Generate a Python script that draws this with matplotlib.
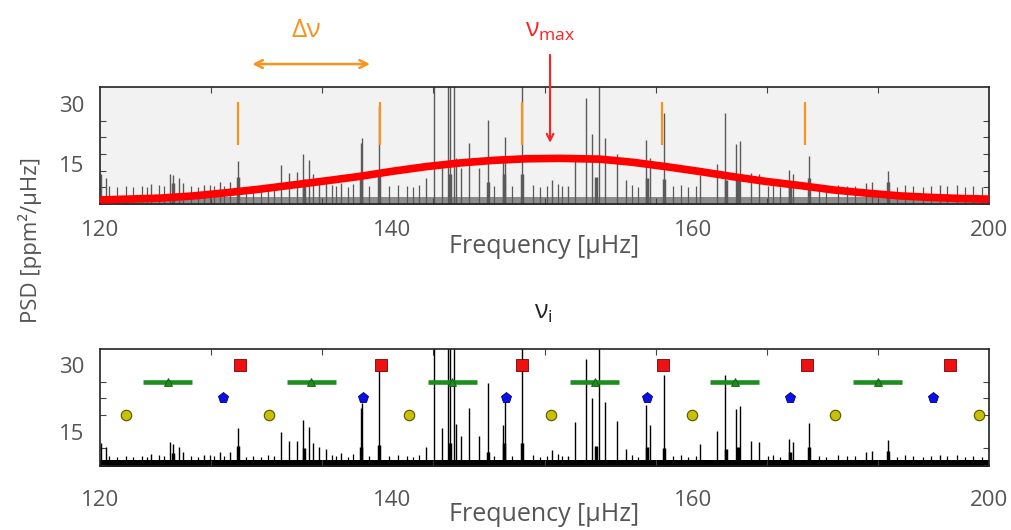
import matplotlib
matplotlib.use('Agg')
import matplotlib.pyplot as plt
from matplotlib.ticker import FixedLocator, MultipleLocator

plt.rcParams['font.family'] = ['Open Sans', 'DejaVu Sans']
plt.rcParams['mathtext.fontset'] = 'custom'
plt.rcParams['mathtext.rm'] = 'Open Sans'
plt.rcParams['mathtext.it'] = 'Open Sans'

# main oscillation peaks (frequency in uHz, PSD in ppm^2/uHz)
peak_freq = [120.1, 120.5, 124.6, 126.3, 126.6, 127.1, 127.5, 129.4, 130.8, 131.7,
             132.4, 136.3, 137.0, 137.7, 138.3, 138.8, 139.2, 139.7, 140.3, 141.7,
             143.45, 143.6, 145.1, 149.3, 150.1, 150.8, 151.3, 151.5, 151.9, 152.0,
             152.5, 153.2, 154.1, 154.9, 156.3, 156.45, 158.0, 160.7, 162.1, 162.7,
             163.7, 164.3, 164.9, 165.4, 166.5, 167.3, 169.1, 169.5, 170.75, 174.0,
             175.5, 176.25, 177.2, 177.6, 178.6, 179.3, 182.0, 182.4, 183.8, 188.9,
             189.5, 190.9, 195.6]
peak_psd = [12.5, 11.5, 9.9, 12.6, 12.3, 11.6, 10.3, 9.7, 10.5, 10.5,
            15.7, 14.8, 12.8, 12.9, 17.6, 16.1, 12.4, 11.5, 11.1, 10.2,
            20.2, 21.4, 29.6, 11.6, 40, 15.7, 40, 40, 40, 16.6,
            13.9, 20.2, 13.9, 25.9, 16.5, 21.7, 40, 10.9, 9.5, 17.1,
            31.4, 22.5, 40, 21.6, 17.4, 11.0, 21.0, 16.5, 27.8, 12.2,
            15.1, 27.8, 20.0, 20.8, 12.8, 12.6, 13.4, 12.6, 16.9, 10.3,
            10.6, 13.2, 9.8]

# broadened bases of the strongest modes
skirt_freq = [126.6, 132.4, 138.4, 143.5, 145.1, 151.5, 154.9, 156.4, 158.0,
              164.6, 169.2, 170.75, 176.3, 177.4, 182.1, 183.8, 190.9]
skirt_psd = [10.2, 11.8, 11.2, 11.5, 12.0, 12.5, 10.5, 12.5, 12.5,
             11.8, 11.5, 11.2, 11.0, 11.5, 10.5, 11.5, 10.6]

# small noise spikes on top of the background
grass_freq = [120.8, 121.5, 122.3, 123.0, 123.8, 124.2, 125.3, 125.8, 128.2, 128.8,
              129.9, 130.3, 131.2, 133.1, 133.8, 134.5, 135.1, 135.7, 140.9, 141.2,
              142.3, 142.8, 144.2, 146.0, 146.8, 147.6, 148.2, 148.7, 155.5, 157.1,
              159.0, 159.6, 160.2, 161.2, 161.6, 167.9, 168.4, 171.6, 172.3, 172.9,
              173.6, 180.1, 180.6, 181.2, 184.7, 185.3, 186.4, 187.2, 187.9, 191.7,
              192.4, 193.2, 194.1, 194.8, 196.2, 197.1, 197.8, 198.6, 199.4]
grass_psd = [9.4, 9.2, 9.6, 9.3, 9.5, 9.2, 9.7, 9.4, 9.5, 9.3,
             9.8, 9.4, 9.6, 9.2, 9.5, 9.3, 9.7, 9.4, 9.8, 9.5,
             9.3, 10.0, 9.6, 9.4, 9.7, 9.5, 9.2, 9.8, 9.6, 9.4,
             9.7, 9.3, 9.5, 10.0, 9.4, 9.7, 9.3, 9.5, 9.8, 9.2,
             9.6, 9.4, 9.7, 9.3, 9.5, 9.2, 9.8, 9.4, 9.6, 9.3,
             9.7, 9.5, 9.2, 9.6, 9.4, 9.8, 9.3, 9.5, 9.2]
noise_top_upper = 6.7
noise_top_lower = 8.7

# Gaussian-like envelope (red curve)
env_freq = [120, 122.5, 125.4, 128.4, 131.4, 134.4, 137.4, 140.4, 143.4, 146.4, 149.4,
            152.4, 155.4, 158.4, 161.4, 165, 168, 171, 174, 177, 180, 183, 186,
            189, 192, 195, 197.5, 200]
env_psd = [6.0, 6.2, 6.45, 7.0, 7.8, 8.7, 9.75, 10.8, 11.9, 13.2, 14.35,
           15.25, 15.9, 16.3, 16.4, 16.2, 15.4, 14.3, 13.1, 11.8, 10.6, 9.6, 8.5,
           7.7, 7.0, 6.6, 6.35, 6.2]

dnu_marks = [132.4, 145.2, 158.0, 170.6, 183.4]

# identified mode frequencies
l0_freq = [132.6, 145.3, 158.0, 170.7, 183.6, 196.5]
l2_freq = [131.1, 143.7, 156.5, 169.2, 182.1, 195.0]
l1_freq = [126.1, 139.0, 151.7, 164.5, 177.1, 190.0]
l3_freq = [122.3, 135.2, 147.8, 160.6, 173.3, 186.1, 199.1]
l1_halfwidth = 2.2

xtick_pos = [120, 146.3, 173.4, 200]
xtick_labels = ['120', '140', '160', '200']

text_gray = '#555555'
orange = '#f7941d'


def draw_spectrum(ax, color, band_color, base, noise_top):
    ax.fill_between([120, 200], 0, noise_top, color=band_color, lw=0)
    ax.vlines(grass_freq, base, grass_psd, color=color, lw=0.9)
    ax.vlines(skirt_freq, base, skirt_psd, color=color, lw=2.5)
    ax.vlines(peak_freq, base, peak_psd, color=color, lw=1.0)


def style_axes(ax, ylim, yminor, xlabel_y, xpad):
    ax.set_xlim(120, 200)
    ax.set_ylim(*ylim)
    ax.set_xticks(xtick_pos, xtick_labels)
    ax.set_yticks([15, 30], ['15', '30'])
    ax.xaxis.set_minor_locator(MultipleLocator(10))
    ax.yaxis.set_minor_locator(yminor)
    ax.tick_params(which='major', length=0, labelsize=16, colors=text_gray)
    ax.tick_params(axis='x', which='major', pad=xpad)
    ax.tick_params(axis='y', which='major', pad=11)
    ax.tick_params(which='minor', direction='in', length=4, width=0.8,
                   color='#444444', top=True, right=True)
    for s in ax.spines.values():
        s.set_linewidth(1.2)
        s.set_color('#222222')
    ax.set_xlabel('Frequency [\u03bcHz]', fontsize=18, color=text_gray)
    ax.xaxis.set_label_coords(0.5, xlabel_y)


fig = plt.figure(figsize=(10.12, 5.30), dpi=100)

# top panel: spectrum with envelope
ax1 = fig.add_axes([0.0988, 0.616, 0.8785, 0.2198])
ax1.set_facecolor('#f2f2f2')
draw_spectrum(ax1, '#5a5a5a', '#8c8c8c', 5.0, noise_top_upper)
ax1.plot(env_freq, env_psd, color='#ff0000', lw=5.5, solid_capstyle='butt', zorder=4)
ax1.vlines(dnu_marks, 19.75, 30.5, color=orange, lw=1.6, zorder=5)
style_axes(ax1, (5.1, 34.25),
           FixedLocator([9.17, 13.33, 17.5, 21.67, 25.83, 30]), -0.265, 12)

ax1.annotate('', xy=(133.7, 40), xytext=(144.3, 40), xycoords='data',
             arrowprops=dict(arrowstyle='<->', color=orange, lw=1.8,
                             mutation_scale=14, shrinkA=0, shrinkB=0),
             annotation_clip=False)
ax1.text(138.6, 48.5, '\u0394\u03bd', color=orange, fontsize=19,
         ha='center', va='center')
ax1.annotate('', xy=(160.5, 20.3), xytext=(160.5, 42.3), xycoords='data',
             arrowprops=dict(arrowstyle='->', color='#ff2020', lw=1.5,
                             mutation_scale=12, shrinkA=0, shrinkB=0),
             annotation_clip=False)
ax1.text(160.5, 48.5, r'$\mathrm{\nu_{max}}$', color='#ff2020', fontsize=18,
         ha='center', va='center')

# bottom panel: spectrum with identified modes
ax2 = fig.add_axes([0.0988, 0.1208, 0.8785, 0.2207])
draw_spectrum(ax2, 'black', 'black', 7.0, noise_top_lower)
for f in l1_freq:
    ax2.plot([f - l1_halfwidth, f + l1_halfwidth], [26.25, 26.25],
             color='#1e8c1e', lw=3.3, solid_capstyle='butt', zorder=5)
ax2.plot(l1_freq, [26.25] * len(l1_freq), '^', color='#1e8c1e', ms=6,
         mec='#106010', mew=0.6, zorder=6)
ax2.plot(l0_freq, [30] * len(l0_freq), 's', color='#ee1111', ms=8,
         mec='#7a0000', mew=0.6, zorder=6)
ax2.plot(l2_freq, [22.5] * len(l2_freq), 'p', color='#0a10e8', ms=8,
         mec='#000070', mew=0.6, zorder=6)
ax2.plot(l3_freq, [18.75] * len(l3_freq), 'o', color='#c8c000', ms=7.5,
         mec='#555500', mew=0.8, zorder=6, clip_on=False)
style_axes(ax2, (7.25, 33.6), MultipleLocator(3.75), -0.31, 17)
ax2.text(159.9, 41.9, r'$\mathrm{\nu_{i}}$', color='#222222', fontsize=18,
         ha='center', va='center')

fig.text(30 / 1012, 1 - 240 / 530, 'PSD [ppm\u00b2/\u03bcHz]', rotation=90,
         fontsize=16, color=text_gray, ha='center', va='center')

fig.savefig('out.png', dpi=100)
